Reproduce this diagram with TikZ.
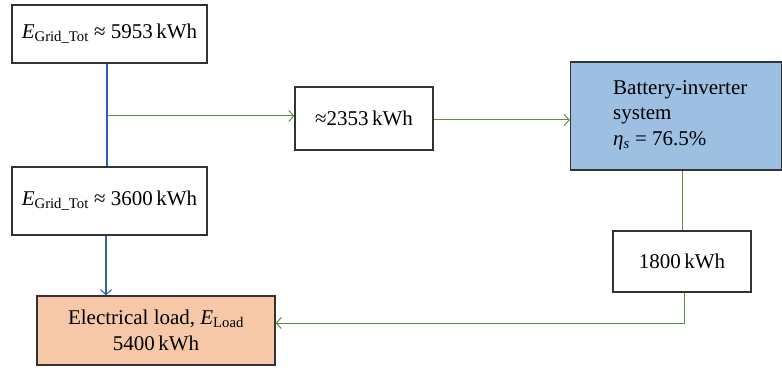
\documentclass[tikz,border=0pt]{standalone}
\usepackage{fontspec}
\setmainfont{Liberation Serif}
\usetikzlibrary{arrows.meta}
\definecolor{bluel}{HTML}{2F5FB0}
\definecolor{greenl}{HTML}{5E8F3E}
\definecolor{battfill}{HTML}{9DBFE2}
\definecolor{loadfill}{HTML}{F6C8A8}
\newcommand{\Esub}[1]{\textit{E}\textsubscript{#1}}
\begin{document}
\begin{tikzpicture}[x=1pt,y=-1pt,
  box/.style={draw=black!80,line width=1.2pt,inner sep=0pt,font=\fontsize{21}{23}\selectfont},
  txt/.style={inner sep=0pt,font=\fontsize{21}{25.5}\selectfont},
  bl/.style={draw=bluel,line width=1.1pt},
  gl/.style={draw=greenl,line width=1pt},
  tip/.style={-{Straight Barb[length=5pt,width=11pt]}}]
\useasboundingbox (0,0) rectangle (782,374);
\node[box,minimum width=195pt,minimum height=58pt] (g1) at (109.5,34) {\Esub{Grid\_Tot} ≈ 5953\,kWh};
\node[box,minimum width=195pt,minimum height=68pt] (g2) at (109.5,201) {\Esub{Grid\_Tot} ≈ 3600\,kWh};
\node[box,minimum width=138pt,minimum height=63pt] (m) at (364,118.5) {≈2353\,kWh};
\node[box,fill=battfill,minimum width=211pt,minimum height=108pt] (b) at (676,116) {};
\node[txt,anchor=north west,align=left] (bt) at (613,80) {Battery-inverter\\system\\\textit{η\textsubscript{s}} = 76.5\%};
\node[box,minimum width=138pt,minimum height=61pt] (k) at (682,261.5) {1800\,kWh};
\node[box,fill=loadfill,minimum width=238pt,minimum height=69pt] (l) at (156,330.5) {};
\node[txt,align=center] (lt) at (l.center) {Electrical load, \Esub{Load}\\5400\,kWh};
\coordinate (j) at (107,116);
\coordinate (c) at (684,323);
\draw[bl] (g1.south -| j) -- (g2.north -| j);
\draw[gl,tip] (j) -- (m.west |- j);
\draw[gl,tip] (m.east) ++(0,1.5) -- (b.west |- 0,120);
\draw[gl] (b.south -| 682,0) -- (k.north -| 682,0);
\draw[bl,tip] (g2.south -| 106,0) -- (l.north -| 106,0);
\draw[gl,tip] (k.south -| c) -- (c) -- (l.east |- c);
\end{tikzpicture}
\end{document}
